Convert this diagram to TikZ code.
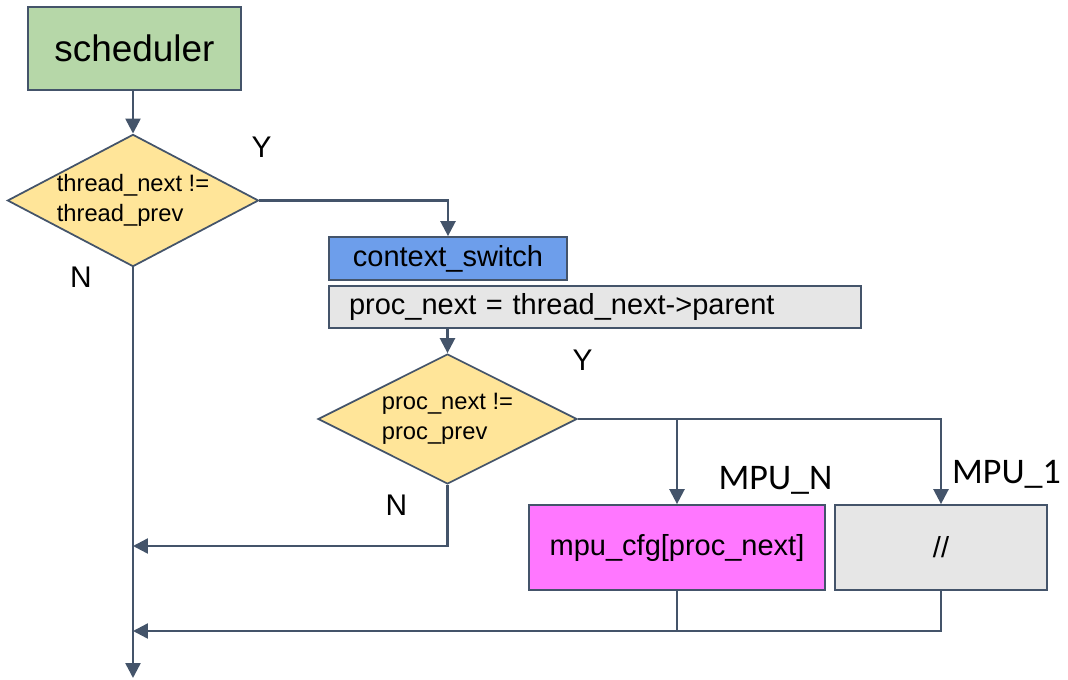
\documentclass[tikz,border=0pt]{standalone}
\usepackage{fontspec}
\setmainfont{Liberation Sans}
\newfontfamily\calibri{Carlito}
\usetikzlibrary{shapes.geometric,arrows.meta,positioning}
\definecolor{flowline}{HTML}{44546A}
\definecolor{schedgreen}{HTML}{B6D7A8}
\definecolor{decyellow}{HTML}{FFE599}
\definecolor{ctxblue}{HTML}{6D9EEB}
\definecolor{mpupink}{HTML}{FF77FF}
\definecolor{boxgrey}{HTML}{E6E6E6}

\begin{document}
\begin{tikzpicture}[
    flowbox/.style={rectangle, draw=flowline, line width=1pt, inner sep=0pt,
        font=\fontsize{16.5}{19}\selectfont},
    decision/.style={diamond, draw=flowline, line width=1pt, fill=decyellow,
        inner sep=0pt, align=left, font=\fontsize{13.5}{17}\selectfont},
    arr/.style={-{Triangle[length=8.5pt,width=8.5pt]}, line width=1.4pt, flowline},
    conn/.style={line width=1.4pt, flowline},
    yn/.style={font=\fontsize{17}{20}\selectfont},
    mpulbl/.style={font=\calibri\fontsize{20.5}{24}\selectfont}
]
    \useasboundingbox (0,0) rectangle (21.36,-13.6);

    \node[flowbox, fill=schedgreen, minimum width=4.26cm, minimum height=1.66cm,
        font=\fontsize{21}{25}\selectfont] (sched) at (2.69,-0.97) {scheduler\hspace{0.25cm}};
    \node[decision, aspect=1.9, minimum width=4.92cm, minimum height=2.58cm] (dec1) at (2.66,-4.01)
        {thread\_next !=\\thread\_prev};
    \node[flowbox, fill=ctxblue, minimum width=4.76cm, minimum height=0.86cm] (ctx) at (8.96,-5.17)
        {context\_switch};
    \node[flowbox, fill=boxgrey, minimum height=0.84cm, text width=9.84cm, inner xsep=0.4cm,
        align=left] (parent) at (11.9,-6.14) {proc\_next = thread\_next->parent};
    \node[decision, aspect=2, minimum width=5.18cm, minimum height=2.6cm] (dec2) at (8.95,-8.38)
        {proc\_next !=\\proc\_prev};
    \node[flowbox, fill=mpupink, minimum width=5.92cm, minimum height=1.7cm] (mpu) at (13.54,-10.95)
        {mpu\_cfg[proc\_next]};
    \node[flowbox, fill=boxgrey, minimum width=4.24cm, minimum height=1.7cm] (other) at (18.82,-10.95)
        {//};

    % branch labels
    \node[yn] (y1) at (5.23,-2.95) {Y};
    \node[yn] (n1) at (1.62,-5.55) {N};
    \node[yn] (y2) at (11.65,-7.21) {Y};
    \node[yn] (n2) at (7.93,-10.11) {N};
    \node[mpulbl] (mpuN) at (15.51,-9.6) {MPU\_N};
    \node[mpulbl] (mpu1) at (20.13,-9.48) {MPU\_1};

    \coordinate (exit) at (2.66,-13.56);
    \coordinate (joinA) at (2.66,-10.92);
    \coordinate (joinB) at (2.66,-12.62);

    \draw[arr] (dec1.north |- sched.south) -- (dec1.north);
    \draw[arr] (dec1.east) -| (ctx.north);
    \draw[arr] (dec2.north |- parent.south) -- (dec2.north);
    \draw[arr] (dec1.south) -- (exit);
    \draw[arr] (dec2.south) |- (joinA);
    \draw[arr] (dec2.east) -| (mpu.north);
    \draw[arr] (dec2.east) -| (other.north);
    \draw[arr] (mpu.south) |- (joinB);
    \draw[conn] (other.south) |- (mpu.south |- joinB);
\end{tikzpicture}
\end{document}
